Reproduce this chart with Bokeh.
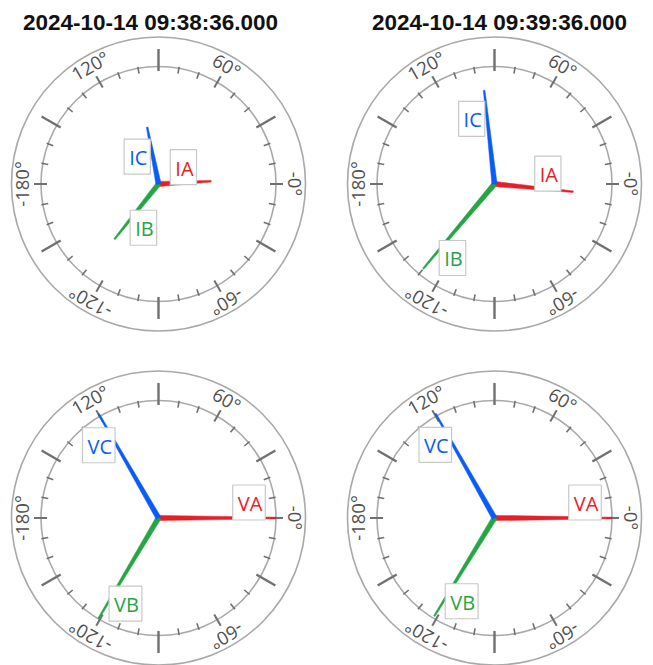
import numpy as np
from bokeh.plotting import figure
from bokeh.layouts import gridplot
from bokeh.models import ColumnDataSource, Range1d
from bokeh.core.properties import value
from bokeh.embed import file_html
from bokeh.resources import INLINE

# ---------------- data ----------------
titles = ["2024-10-14 09:38:36.000", "2024-10-14 09:39:36.000", "", ""]

names_I = ["IA", "IB", "IC"]
names_V = ["VA", "VB", "VC"]

# magnitude (per unit of dial full scale) and angle (degrees)
I1_mag = [0.449, 0.601, 0.493]
I1_ang = [3.0, -128.6, 101.3]
I2_mag = [0.673, 0.942, 0.802]
I2_ang = [-5.6, -130.1, 96.3]
V1_mag = [1.00, 1.00, 1.02]
V1_ang = [0.0, -120.8, 119.9]
V2_mag = [1.00, 0.98, 1.02]
V2_ang = [0.0, -121.5, 119.5]

phase_colors = ["#e61e28", "#26a545", "#0b5cf6"]

dial_label_deg = [0, 60, 120, 180, -120, -60]
dial_label_txt = ["-0°", "60°", "120°", "-180°", "-120°", "-60°"]

# ---------------- geometry (px) ----------------
R_IN = 117.5
R_OUT = 147.0
R_LAB = 137.0
COL_W = [336, 317]
COL_CX = [158, 158]
ROW_H = [350, 315]
ROW_CY = [183.5, 167.5]
TITLE_DX = [-8, 5]
TITLE_DY = 161.5
GRID_COLOR = "#a9a9a9"
TICK_COLOR = "#707070"


def make_panel(col, row, title, names, mags, angs):
    w, h = COL_W[col], ROW_H[row]
    cx, cy = COL_CX[col], ROW_CY[row]
    p = figure(width=w, height=h,
               x_range=Range1d(-cx, w - cx), y_range=Range1d(-(h - cy), cy),
               toolbar_location=None, output_backend="svg", min_border=0,
               x_axis_type=None, y_axis_type=None, outline_line_color=None,
               title=None, background_fill_color="white", border_fill_color="white")

    # circles
    p.circle(x=[0, 0], y=[0, 0], radius=[R_OUT, R_IN], fill_color=None,
             line_color=GRID_COLOR, line_width=1.6)

    # ticks
    deg = np.arange(-170, 181, 10)
    r0, r1, lw = [], [], []
    for d in deg:
        if d % 60 == 0:
            r0.append(111.5); r1.append(124.5); lw.append(2.0)
        elif d % 30 == 0:
            r0.append(113.0); r1.append(135.0); lw.append(2.4)
        else:
            r0.append(112.0); r1.append(119.0); lw.append(1.6)
    rad = np.deg2rad(deg)
    r0, r1 = np.array(r0), np.array(r1)
    p.segment(x0=r0 * np.cos(rad), y0=r0 * np.sin(rad),
              x1=r1 * np.cos(rad), y1=r1 * np.sin(rad),
              line_color=TICK_COLOR, line_width=lw)

    # dial labels
    lrad = np.deg2rad(dial_label_deg)
    p.text(x=R_LAB * np.cos(lrad), y=R_LAB * np.sin(lrad), text=dial_label_txt,
           angle=lrad - np.pi / 2, text_align="center", text_baseline="middle",
           text_font=value("Open Sans"), text_font_size="18.5px", text_color="#505050")

    # phasors (tapered)
    xs, ys, lx, ly = [], [], [], []
    for m, a in zip(mags, angs):
        L = m * R_IN
        t = np.deg2rad(a)
        ux, uy = np.cos(t), np.sin(t)
        nx, ny = -uy, ux
        hw0, hw1 = 2.6, 0.8
        xs.append([nx * hw0, L * ux + nx * hw1, L * ux - nx * hw1, -nx * hw0])
        ys.append([ny * hw0, L * uy + ny * hw1, L * uy - ny * hw1, -ny * hw0])
        along = L - 27.0
        lx.append(along * ux + 15.5 * nx)
        ly.append(along * uy + 15.5 * ny)
    src = ColumnDataSource(dict(xs=xs, ys=ys, x=lx, y=ly, name=names, color=phase_colors))
    p.patches(xs="xs", ys="ys", fill_color="color", line_color="color", line_width=0.5, source=src)
    p.text(x="x", y="y", text="name", text_color="color", source=src,
           text_align="center", text_baseline="middle",
           text_font=value("Open Sans"), text_font_size="20px",
           background_fill_color="white", border_line_color="#c8c8c8",
           border_line_width=1.2, padding=(5, 3, 5, 3))

    if title:
        p.text(x=[TITLE_DX[col]], y=[TITLE_DY], text=[title], text_align="center",
               text_baseline="alphabetic", text_font=value("Liberation Sans"),
               text_font_style="bold", text_font_size="22.5px", text_color="#111111")
    return p


p1 = make_panel(0, 0, titles[0], names_I, I1_mag, I1_ang)
p2 = make_panel(1, 0, titles[1], names_I, I2_mag, I2_ang)
p3 = make_panel(0, 1, titles[2], names_V, V1_mag, V1_ang)
p4 = make_panel(1, 1, titles[3], names_V, V2_mag, V2_ang)

grid = gridplot([[p1, p2], [p3, p4]], toolbar_location=None)

open("out.html", "w").write(file_html(grid, INLINE))
